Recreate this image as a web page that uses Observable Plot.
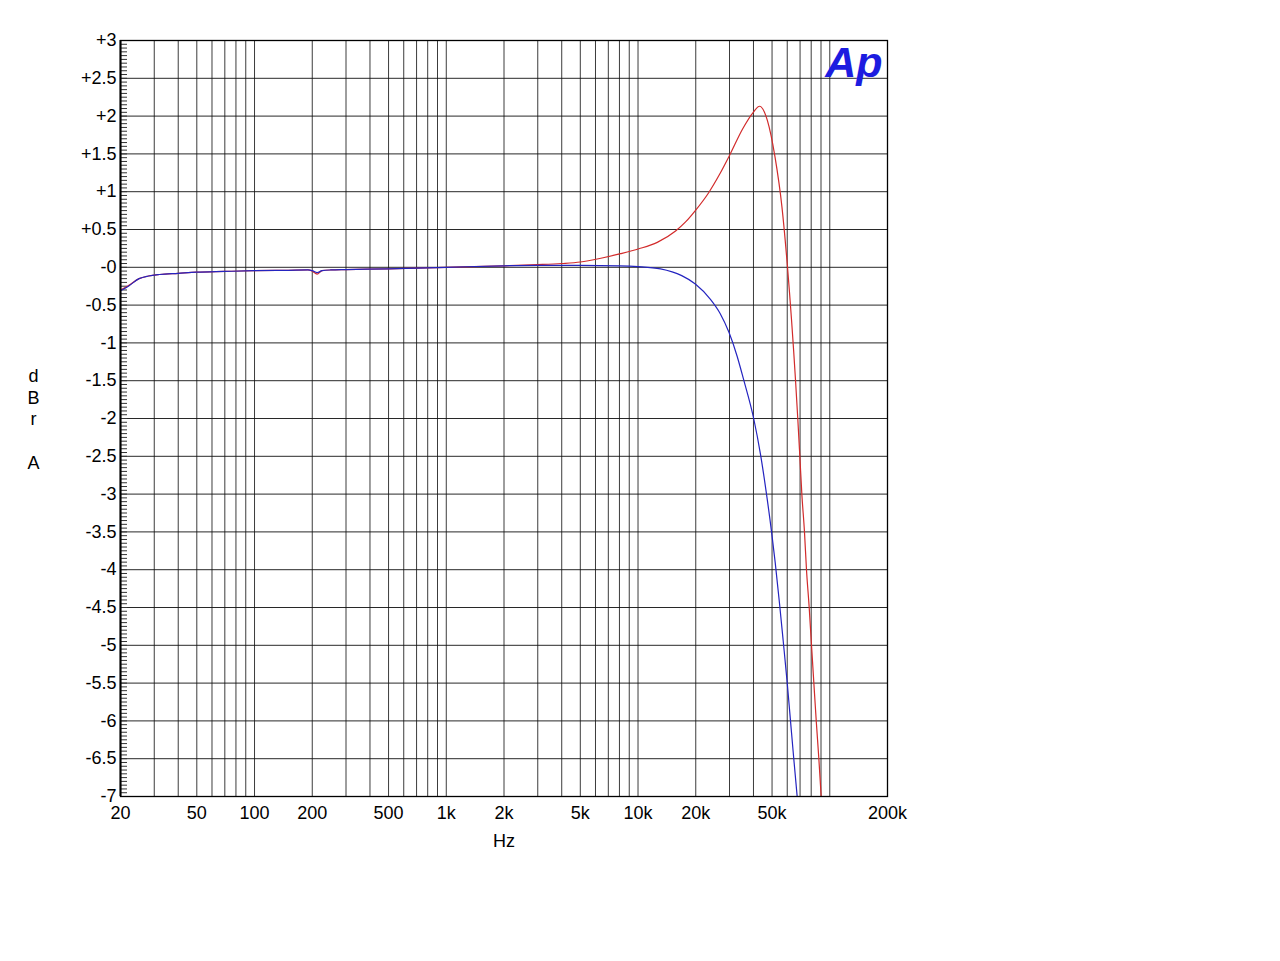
<!DOCTYPE html>
<html>
<head>
<meta charset="utf-8">
<script src="https://cdn.jsdelivr.net/npm/d3@7"></script>
<script src="https://cdn.jsdelivr.net/npm/@observablehq/plot@0.6"></script>
<style>
  html, body { margin: 0; padding: 0; background: #fff; }
  #chart { position: absolute; left: 0; top: 0; }
</style>
</head>
<body>
<div id="chart"></div>
<script>
// Frequency response (dBr A vs Hz)
const redFreq = [20,22,25,28,32,40,50,70,100,150,190,200,212,225,250,300,500,700,1000,2000,3000,4000,5000,6400,8100,10100,12600,15700,17700,19900,23400,26500,30000,35100,39900,43000,47300,51800,56300,60200,66300,68100,69800,71500,73800,75600,78100,80300,82600,85000,87700,90200];
const redDb = [-0.30,-0.24,-0.15,-0.115,-0.095,-0.08,-0.065,-0.055,-0.045,-0.04,-0.035,-0.05,-0.09,-0.045,-0.035,-0.03,-0.02,-0.01,0,0.02,0.035,0.05,0.07,0.12,0.18,0.245,0.33,0.48,0.6,0.75,0.99,1.22,1.48,1.83,2.05,2.13,1.94,1.46,0.8,0.0,-1.5,-2.0,-2.5,-3.0,-3.5,-4.0,-4.5,-5.0,-5.5,-6.0,-6.5,-7.0];

const blueFreq = [20,22,25,28,32,40,50,70,100,150,190,200,212,225,250,300,500,700,1000,2000,3000,5000,8000,10000,13100,16900,19900,23800,26800,29800,32900,35400,40100,43500,46600,49700,51900,54700,57200,60000,62400,64900,67600];
const blueDb = [-0.31,-0.25,-0.15,-0.115,-0.095,-0.08,-0.065,-0.055,-0.045,-0.04,-0.035,-0.045,-0.07,-0.045,-0.035,-0.03,-0.02,-0.01,0,0.02,0.025,0.025,0.02,0.01,-0.02,-0.11,-0.22,-0.42,-0.61,-0.86,-1.18,-1.47,-2.0,-2.47,-2.97,-3.5,-3.9,-4.45,-4.95,-5.5,-6.0,-6.5,-7.0];

const xTicks = [20,50,100,200,500,1000,2000,5000,10000,20000,50000,200000];
const xTickLabels = ["20","50","100","200","500","1k","2k","5k","10k","20k","50k","200k"];
const xGrid = [30,40,50,60,70,80,90,100,200,300,400,500,600,700,800,900,1000,2000,3000,4000,5000,6000,7000,8000,9000,10000,20000,30000,40000,50000,60000,70000,80000,90000,100000];

const yTicks = [3,2.5,2,1.5,1,0.5,0,-0.5,-1,-1.5,-2,-2.5,-3,-3.5,-4,-4.5,-5,-5.5,-6,-6.5,-7];
const yTickLabels = ["+3","+2.5","+2","+1.5","+1","+0.5","-0","-0.5","-1","-1.5","-2","-2.5","-3","-3.5","-4","-4.5","-5","-5.5","-6","-6.5","-7"];
const yMinor = d3.range(0, 201).map(i => Math.round((-7 + i * 0.05) * 100) / 100);

const yLabel = ["d\nB\nr\n\nA"];
const xLabel = ["Hz"];
const logo = ["Ap"];

const red = redFreq.map((f, i) => ({f, db: redDb[i]}));
const blue = blueFreq.map((f, i) => ({f, db: blueDb[i]}));
const yFmt = new Map(yTicks.map((v, i) => [v, yTickLabels[i]]));

const font = "'Liberation Sans', Arial, sans-serif";

const chart = Plot.plot({
  width: 1280,
  height: 961,
  marginLeft: 120,
  marginRight: 393,
  marginTop: 40,
  marginBottom: 165,
  x: {type: "log", domain: [20, 200000], label: null, axis: null},
  y: {domain: [-7, 3], label: null},
  style: {fontFamily: font, fontSize: "18px", color: "#000", background: "#fff"},
  marks: [
    Plot.gridX(xGrid, {stroke: "#1a1a1a", strokeOpacity: 0.85}),
    Plot.gridY(yTicks, {stroke: "#111", strokeOpacity: 0.9}),
    Plot.axisY(yMinor, {tickSize: -7, fill: "none", tickFormat: () => "", label: null, stroke: "#333"}),
    Plot.axisY(yTicks, {tickSize: 0, tickPadding: 4, tickFormat: d => yFmt.get(d), label: null, fontSize: 18}),
    Plot.text(xTicks, {x: d => d, text: (d, i) => xTickLabels[i], frameAnchor: "bottom", lineAnchor: "top", dy: 10, fontSize: 18}),
    Plot.line(red, {x: "f", y: "db", stroke: "#d22b2b", strokeWidth: 1.2, curve: "monotone-x", clip: true}),
    Plot.line(blue, {x: "f", y: "db", stroke: "#2424c0", strokeWidth: 1.2, curve: "monotone-x", clip: true}),
    Plot.frame({stroke: "#000", strokeWidth: 1.3}),
    Plot.ruleX([20], {stroke: "#000", strokeWidth: 2}),
    Plot.text(yLabel, {frameAnchor: "left", dx: -87, textAnchor: "middle", lineHeight: 1.2, fontSize: 18}),
    Plot.text(xLabel, {frameAnchor: "bottom", dy: 50, fontSize: 18}),
    Plot.text(logo, {frameAnchor: "top-right", dx: -5, dy: 6, textAnchor: "end", fontSize: 43, fontWeight: "bold", fontStyle: "italic", fill: "#1c1ce0", letterSpacing: "-5px"})
  ]
});
document.getElementById("chart").appendChild(chart);
</script>
</body>
</html>
